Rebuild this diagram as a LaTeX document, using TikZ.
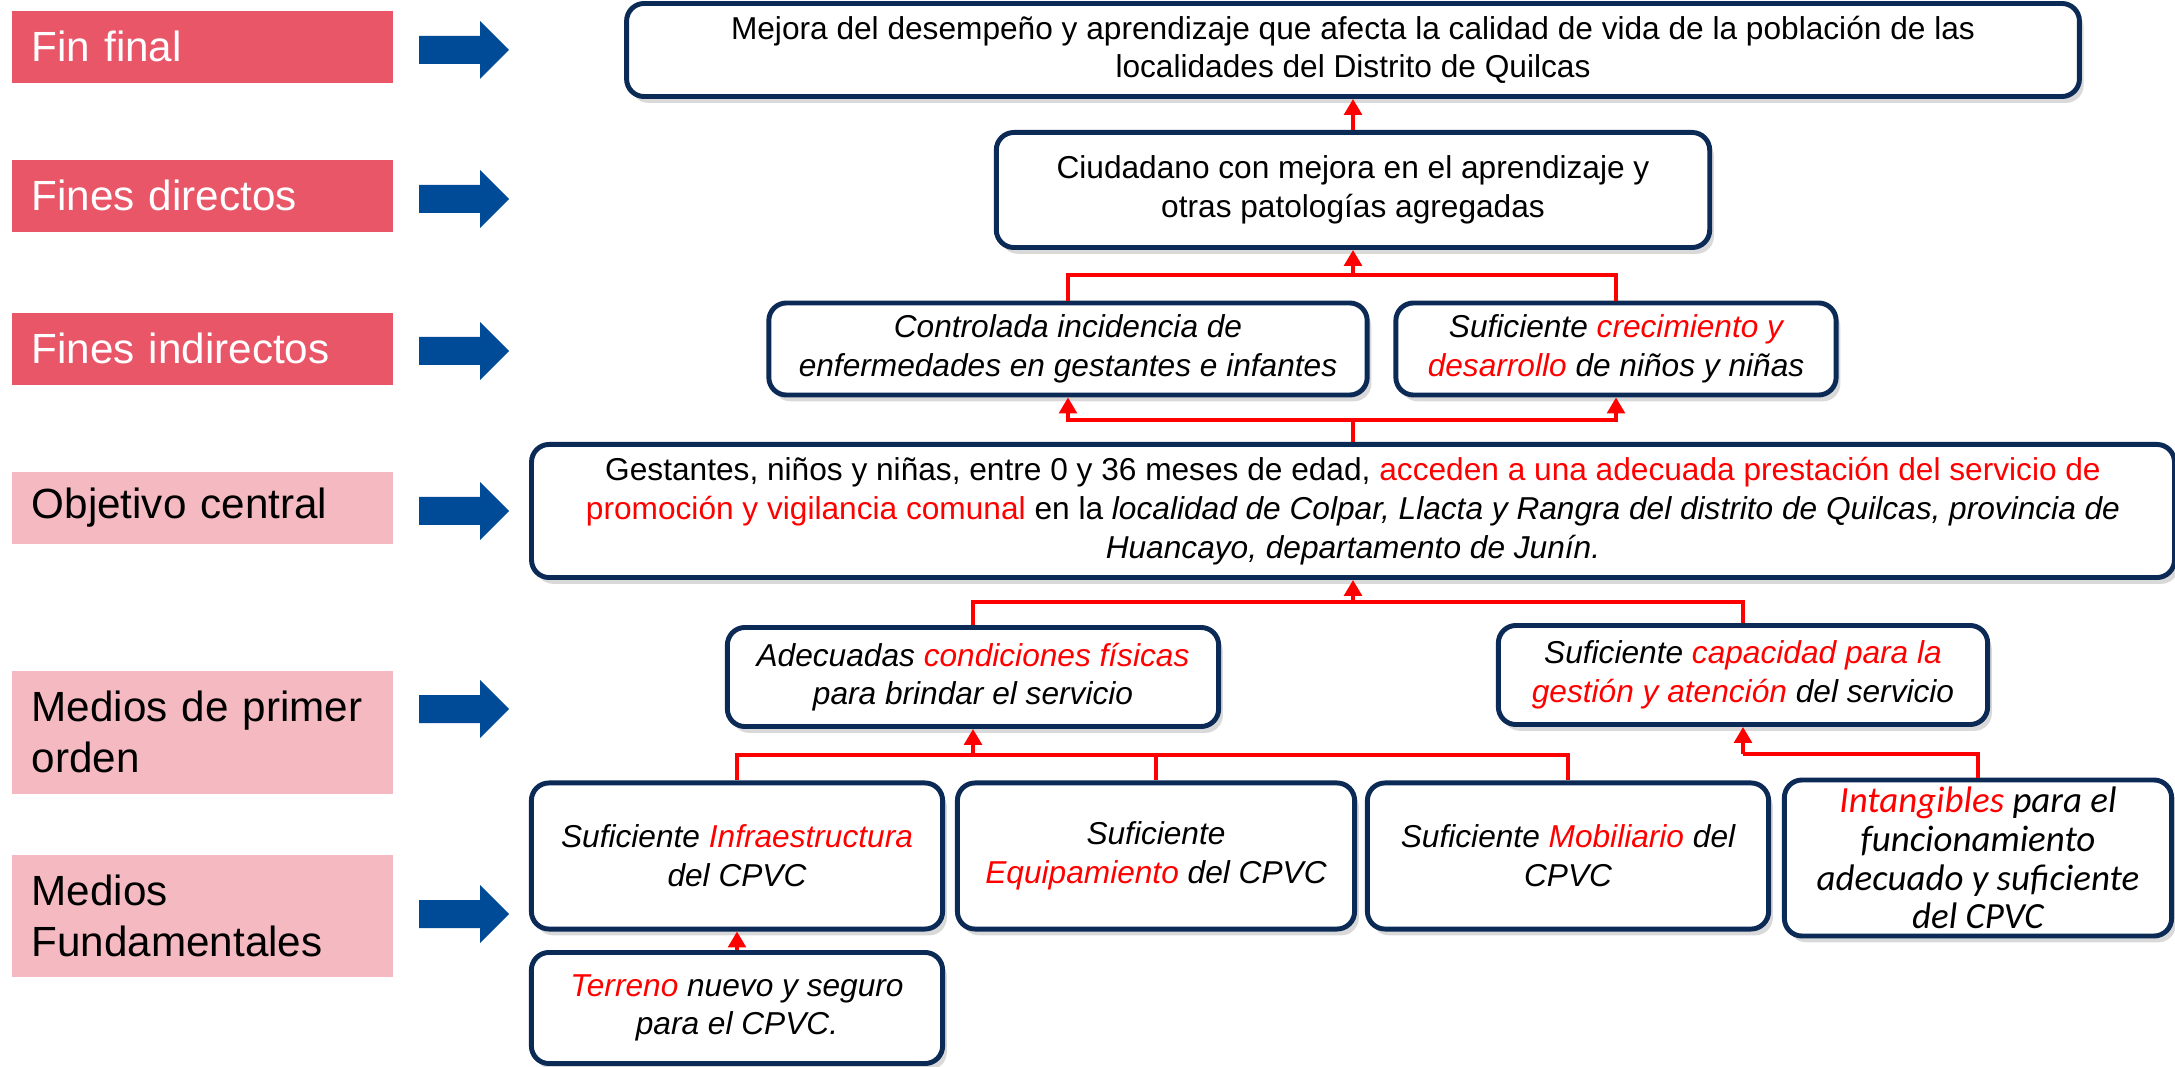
\documentclass[tikz,border=0pt]{standalone}
\usepackage{fontspec}
\setmainfont{Liberation Sans}
\newfontfamily\calfont{Carlito}
\usetikzlibrary{arrows.meta,shadows}
\definecolor{navy}{HTML}{0B2A55}
\definecolor{rosedark}{HTML}{E95668}
\definecolor{roselight}{HTML}{F4B9C1}
\definecolor{arrowblue}{HTML}{004B98}
\newcommand{\rd}[1]{\textcolor{red}{#1}}
\hyphenation{Fundamentales}

\begin{document}
\begin{tikzpicture}[x=0.01cm, y=-0.01cm,
  mbox/.style={draw=navy, line width=1.4pt, rounded corners=5pt, fill=white, align=center,
    inner sep=2pt, font=\fontsize{9}{11}\selectfont,
    drop shadow={shadow xshift=1.2pt, shadow yshift=-1.8pt, opacity=0.3}},
  mboxit/.style={mbox, font=\fontsize{9}{11}\selectfont\itshape},
  tag/.style={anchor=north west, text width=3.41cm, inner xsep=0.2cm, inner ysep=0pt,
    align=left, font=\fontsize{12}{14.5}\selectfont},
  link/.style={red, line width=1pt},
  linkup/.style={link, -{Triangle[length=4.5pt,width=5pt]}}]
  \useasboundingbox (0,0) rectangle (2175,1067);

  % levels on the left
  \foreach \nm/\yy/\hh/\fc/\tc/\txt in {
    lfin/10/72/rosedark/white/Fin final,
    ldir/159/72/rosedark/white/Fines directos,
    lind/312/72/rosedark/white/Fines indirectos,
    lobj/471/72/roselight/black/Objetivo central,
    lmed/670/123/roselight/black/Medios de primer orden,
    lfun/854/122/roselight/black/Medios Fundamentales
  }
  \node[tag, fill=\fc, text=\tc, minimum height=\hh*0.01cm] (\nm) at (11,\yy) {\txt};
  \foreach \c in {50,199,351,511,709,914} {
    % block arrows pointing right
    \fill[arrowblue] (419,\c-14) -- (480,\c-14) -- (480,\c-29) -- (509,\c)
      -- (480,\c+29) -- (480,\c+14) -- (419,\c+14) -- cycle;
  }

  % fines
  \node[mbox, minimum width=14.52cm, minimum height=0.93cm] (fin) at (1353,50)
    {Mejora del desempeño y aprendizaje que afecta la calidad de vida de la población de las\\
     localidades del Distrito de Quilcas};
  \node[mbox, minimum width=7.13cm, minimum height=1.15cm] (dir) at (1353,190)
    {Ciudadano con mejora en el aprendizaje y\\otras patologías agregadas};
  \node[mboxit, minimum width=5.98cm, minimum height=0.92cm] (ind1) at (1068,349)
    {Controlada incidencia de\\enfermedades en gestantes e infantes};
  \node[mboxit, minimum width=4.4cm, minimum height=0.92cm] (ind2) at (1616,349)
    {Suficiente \rd{crecimiento y}\\\rd{desarrollo} de niños y niñas};

  % objetivo
  \node[mbox, minimum width=16.42cm, minimum height=1.33cm] (obj) at (1353,511)
    {Gestantes, niños y niñas, entre 0 y 36 meses de edad, \rd{acceden a una adecuada prestación del servicio de}\\
     \rd{promoción y vigilancia comunal} en la \textit{localidad de Colpar, Llacta y Rangra del distrito de Quilcas, provincia de}\\
     \textit{Huancayo, departamento de Junín.}};

  % medios
  \node[mboxit, minimum width=4.91cm, minimum height=0.99cm] (med1) at (973,677)
    {Adecuadas \rd{condiciones físicas}\\para brindar el servicio};
  \node[mboxit, minimum width=4.89cm, minimum height=0.99cm] (med2) at (1743,675)
    {Suficiente \rd{capacidad para la}\\\rd{gestión y atención} del servicio};
  \node[mboxit, minimum width=4.11cm, minimum height=1.46cm] (infra) at (737,856)
    {Suficiente \rd{Infraestructura}\\del CPVC};
  \node[mboxit, minimum width=3.97cm, minimum height=1.46cm] (equip) at (1156,856)
    {Suficiente\\\rd{Equipamiento} del CPVC};
  \node[mboxit, minimum width=4.01cm, minimum height=1.46cm] (mobil) at (1568,856)
    {Suficiente \rd{Mobiliario} del\\CPVC};
  \node[mbox, font=\calfont\itshape\fontsize{10.5}{11}\selectfont, minimum width=3.87cm,
    minimum height=1.51cm] (intang) at (1978,858)
    {\rd{Intangibles} para el\\funcionamiento\\adecuado y suficiente\\del CPVC};
  \node[mboxit, minimum width=4.11cm, minimum height=1.11cm] (terreno) at (737,1008)
    {\rd{Terreno} nuevo y seguro\\para el CPVC.};

  % links between levels
  \draw[linkup] (dir.north) -- (fin.south);
  \coordinate (j1) at (1353,275);
  \draw[link] (ind1.north) |- (j1) -| (ind2.north);
  \draw[linkup] (j1) -- (dir.south);
  \coordinate (j2) at (1353,420);
  \draw[link] (obj.north) -- (j2);
  \draw[linkup] (j2) -| (ind1.south);
  \draw[linkup] (j2) -| (ind2.south);
  \coordinate (j3) at (1353,602);
  \draw[link] (med1.north) |- (j3) -| (med2.north);
  \draw[linkup] (j3) -- (obj.south);
  \coordinate (j4) at (973,755);
  \draw[link] (infra.north) |- (j4) -| (mobil.north);
  \draw[link] (equip.north) -- (equip.north |- j4);
  \draw[linkup] (j4) -- (med1.south);
  \coordinate (j5) at (1743,754);
  \draw[link] (intang.north) |- (j5);
  \draw[linkup] (j5) -- (med2.south);
  \draw[linkup] (terreno.north) -- (infra.south);
\end{tikzpicture}
\end{document}
